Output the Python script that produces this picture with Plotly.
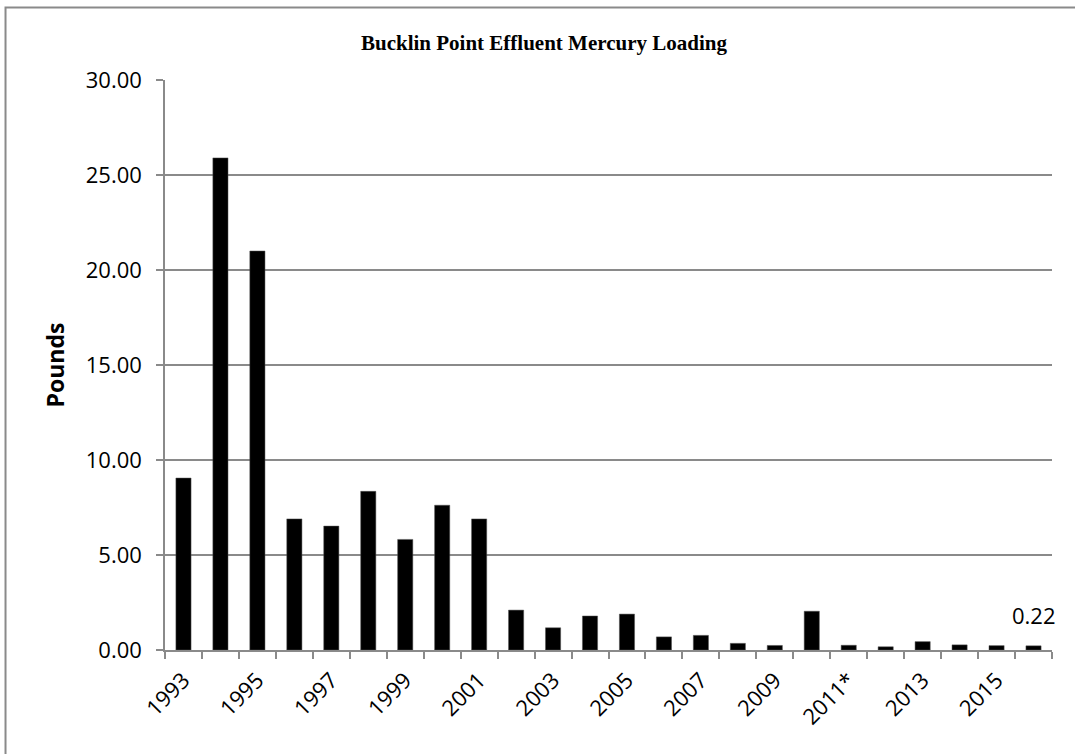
import plotly.graph_objects as go

years = ["1993", "1994", "1995", "1996", "1997", "1998", "1999", "2000",
         "2001", "2002", "2003", "2004", "2005", "2006", "2007", "2008",
         "2009", "2010", "2011*", "2012", "2013", "2014", "2015", "2016"]
pounds = [9.05, 25.9, 21.0, 6.9, 6.52, 8.35, 5.82, 7.62,
          6.9, 2.1, 1.17, 1.79, 1.89, 0.69, 0.77, 0.35,
          0.24, 2.04, 0.25, 0.17, 0.44, 0.27, 0.23, 0.22]
tick_labels = [y if i % 2 == 0 else "" for i, y in enumerate(years)]
y_ticks = [0, 5, 10, 15, 20, 25, 30]

GRAY = "#8a8a8a"
TICKFONT = dict(family="Open Sans", size=22, color="#000000")

fig = go.Figure()
fig.add_trace(go.Bar(
    x=years, y=pounds,
    marker=dict(color="#000000", line=dict(color="#555555", width=0.5)),
    width=0.41,
))

# data label on the last bar (category index of the last year)
last_idx = len(years) - 1
fig.add_annotation(
    x=last_idx, y=pounds[last_idx], text=f"{pounds[last_idx]:.2f}",
    showarrow=False, yanchor="bottom", yshift=14,
    font=dict(family="Open Sans", size=22, color="#000000"),
)

fig.update_layout(
    width=1075, height=754,
    margin=dict(l=165, r=23, t=80, b=104),
    paper_bgcolor="white", plot_bgcolor="white",
    showlegend=False,
    title=dict(text="<b>Bucklin Point Effluent Mercury Loading</b>",
               font=dict(family="Liberation Serif", size=21, color="#000000"),
               x=0.506, xanchor="center", xref="container",
               y=0.943, yanchor="middle", yref="container"),
    xaxis=dict(
        type="category", categoryorder="array", categoryarray=years,
        range=[-0.5, len(years) - 0.5],
        tickmode="array", tickvals=years, ticktext=tick_labels,
        tickson="boundaries", ticks="outside", ticklen=7, tickcolor=GRAY, tickwidth=1.5,
        tickangle=-45, tickfont=TICKFONT, ticklabelstandoff=7,
        showline=True, linecolor=GRAY, linewidth=1.5,
        showgrid=False, zeroline=False,
    ),
    yaxis=dict(
        range=[0, 30], tickmode="array",
        tickvals=y_ticks,
        ticktext=[f"{v:.2f}" for v in y_ticks],
        ticks="outside", ticklen=7, tickcolor=GRAY, tickwidth=1.5,
        ticklabelstandoff=10,
        tickfont=TICKFONT,
        showline=True, linecolor=GRAY, linewidth=1.5,
        showgrid=True, gridcolor=GRAY, gridwidth=1.5, zeroline=False,
        title=dict(text="<b>Pounds</b>",
                   font=dict(family="Open Sans", size=23, color="#000000"),
                   standoff=15),
    ),
    # outer chart border: only its left and top edges fall inside the picture
    shapes=[dict(type="path", xref="paper", yref="paper",
                 path="M -0.1798,-0.4 L -0.1798,1.1272 L 1.3,1.1272",
                 line=dict(color=GRAY, width=2), fillcolor="rgba(0,0,0,0)",
                 layer="below")],
)

fig.write_html("out.html", config={"displayModeBar": False},
               post_script="document.body.style.margin='0';"
                           "document.body.style.overflow='hidden';")
